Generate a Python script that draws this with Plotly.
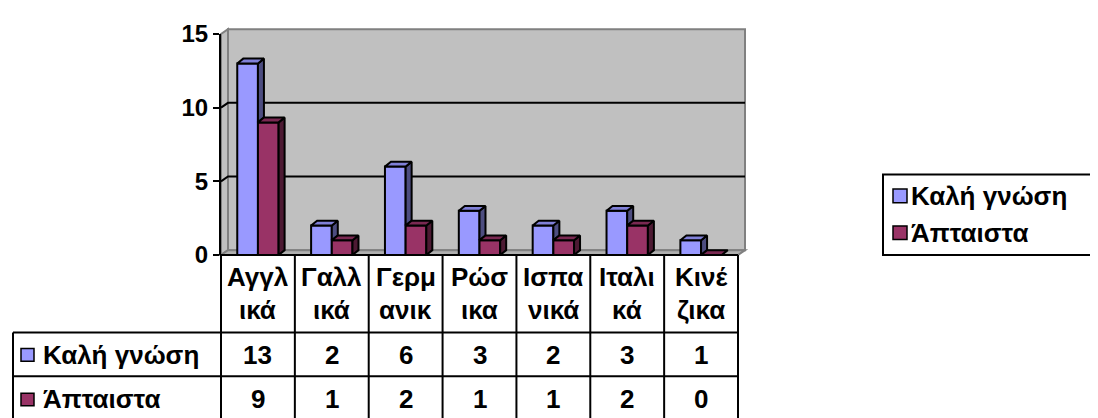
import plotly.graph_objects as go

# ---------------- data ----------------
categories = ["Αγγλικά", "Γαλλικά", "Γερμανικά", "Ρώσικα", "Ισπανικά", "Ιταλικά", "Κινέζικα"]
cat_line1 = ["Αγγλ", "Γαλλ", "Γερμ", "Ρώσ", "Ισπα", "Ιταλι", "Κινέ"]
cat_line2 = ["ικά", "ικά", "ανικ", "ικα", "νικά", "κά", "ζικα"]
series_names = ["Καλή γνώση", "Άπταιστα"]
good_knowledge = [13, 2, 6, 3, 2, 3, 1]
fluent = [9, 1, 2, 1, 1, 2, 0]
y_ticks = [0, 5, 10, 15]

# ---------------- style ----------------
FONT = "Arial, Liberation Sans, sans-serif"
FS_TICK = 24
FS = 26
BLUE, BLUE_SIDE, BLUE_TOP = "#9999FF", "#4D4D80", "#8080D8"
RED, RED_SIDE, RED_TOP = "#993366", "#4D1A33", "#7A2952"
WALL, WALL_EDGE, FLOOR = "#C0C0C0", "#808080", "#B0B0B0"
OUT_W = 2

OFF = 8                       # page body margin of the browser
W_FIG, H_FIG = 1098 - OFF, 418 - OFF
L, R, T, B = 221, 738, 27, 255   # plot area in window pixels
PW, PH = R - L, B - T
N = len(categories)
YMAX = 15

def px_x(px):
    return (px - L) / PW

def px_y(py):
    return (B - py) / PH

def dpx(x):  # data x -> paper
    return (x + 0.5) / N

def dpy(y):  # data y -> paper
    return y / YMAX

def bold(s):
    return f"<b>{s}</b>"

xs = list(range(N))
BW = 0.28
dxw, dyw = 7 * N / PW, 5 * YMAX / PH      # wall depth in data units
dxb, dyb = 6 * N / PW, 5 * YMAX / PH      # bar depth in data units

fig = go.Figure()

fig.add_trace(go.Bar(x=xs, y=good_knowledge, width=BW, offset=-BW, name=series_names[0],
                     marker=dict(color=BLUE, line=dict(color="black", width=OUT_W)),
                     hoverinfo="skip", showlegend=False))
fig.add_trace(go.Bar(x=xs, y=fluent, width=BW, offset=0, name=series_names[1],
                     marker=dict(color=RED, line=dict(color="black", width=OUT_W)),
                     hoverinfo="skip", showlegend=False))


def side_poly(xr, base, top, dx, dy):
    return ([xr, xr + dx, xr + dx, xr, xr, None],
            [base, base + dy, top + dy, top, base, None])


def top_poly(xl, xr, v, dx, dy):
    return ([xl, xl + dx, xr + dx, xr, xl, None],
            [v, v + dy, v + dy, v, v, None])


def face_trace(px, py, color):
    return go.Scatter(x=px, y=py, mode="lines", fill="toself", fillcolor=color,
                      line=dict(color="black", width=OUT_W), hoverinfo="skip",
                      showlegend=False)

# blue side faces (hidden below the neighbouring red box)
bx, by, tx, ty = [], [], [], []
for i in xs:
    b, r = good_knowledge[i], fluent[i]
    if b > r:
        a, c = side_poly(i, r, b, dxb, dyb)
        bx += a; by += c
    a, c = top_poly(i - BW, i, b, dxb, dyb)
    tx += a; ty += c
fig.add_trace(face_trace(bx, by, BLUE_SIDE))
fig.add_trace(face_trace(tx, ty, BLUE_TOP))

rx, ry, rtx, rty = [], [], [], []
for i in xs:
    r = fluent[i]
    if r > 0:
        a, c = side_poly(i + BW, 0, r, dxb, dyb)
        rx += a; ry += c
    a, c = top_poly(i, i + BW, r, dxb, dyb)
    rtx += a; rty += c
fig.add_trace(face_trace(rx, ry, RED_SIDE))
fig.add_trace(face_trace(rtx, rty, RED_TOP))

shapes = []

def path(points):
    return "M" + " L".join(f"{x:.5f},{y:.5f}" for x, y in points) + " Z"

# back wall, side wall and floor (paper coordinates derived from the data scale)
x0, x1 = -0.5, N - 0.5
shapes.append(dict(type="path", xref="paper", yref="paper", layer="below",
                   path=path([(dpx(x0 + dxw), dpy(dyw)), (dpx(x1 + dxw), dpy(dyw)),
                              (dpx(x1 + dxw), dpy(YMAX + dyw)), (dpx(x0 + dxw), dpy(YMAX + dyw))]),
                   fillcolor=WALL, line=dict(color=WALL_EDGE, width=2)))
shapes.append(dict(type="path", xref="paper", yref="paper", layer="below",
                   path=path([(dpx(x0), dpy(0)), (dpx(x0 + dxw), dpy(dyw)),
                              (dpx(x0 + dxw), dpy(YMAX + dyw)), (dpx(x0), dpy(YMAX))]),
                   fillcolor=WALL, line=dict(color=WALL_EDGE, width=2)))
shapes.append(dict(type="path", xref="paper", yref="paper", layer="below",
                   path=path([(dpx(x0), dpy(0)), (dpx(x1), dpy(0)),
                              (dpx(x1 + dxw), dpy(dyw)), (dpx(x0 + dxw), dpy(dyw))]),
                   fillcolor=FLOOR, line=dict(color=WALL_EDGE, width=2)))
# gridlines on the walls
for v in y_ticks[1:-1]:
    shapes.append(dict(type="path", xref="paper", yref="paper", layer="below",
                       path="M{:.5f},{:.5f} L{:.5f},{:.5f} L{:.5f},{:.5f}".format(
                           dpx(x0), dpy(v), dpx(x0 + dxw), dpy(v + dyw), dpx(x1 + dxw), dpy(v + dyw)),
                       line=dict(color="black", width=2)))

# ---------------- data table ----------------
TBL_L = 13
ROW1, ROW2, TBL_BOTTOM = 335, 380, 430
LINE = dict(color="black", width=2)
for k in range(N + 1):
    shapes.append(dict(type="line", xref="paper", yref="paper",
                       x0=dpx(k - 0.5), x1=dpx(k - 0.5), y0=px_y(B), y1=px_y(TBL_BOTTOM), line=LINE))
shapes.append(dict(type="line", xref="paper", yref="paper",
                   x0=px_x(TBL_L), x1=px_x(TBL_L), y0=px_y(ROW1), y1=px_y(TBL_BOTTOM), line=LINE))
shapes.append(dict(type="line", xref="paper", yref="paper",
                   x0=dpx(-0.5), x1=dpx(N - 0.5), y0=px_y(B), y1=px_y(B), line=LINE))
for yy in (ROW1, ROW2):
    shapes.append(dict(type="line", xref="paper", yref="paper",
                       x0=px_x(TBL_L), x1=dpx(N - 0.5), y0=px_y(yy), y1=px_y(yy), line=LINE))

ann = []
tfont = dict(family=FONT, size=FS, color="black")
for i in xs:
    ann.append(dict(x=dpx(i), y=px_y(278), xref="paper", yref="paper", text=bold(cat_line1[i]),
                    showarrow=False, font=tfont, xanchor="center", yanchor="middle"))
    ann.append(dict(x=dpx(i), y=px_y(312), xref="paper", yref="paper", text=bold(cat_line2[i]),
                    showarrow=False, font=tfont, xanchor="center", yanchor="middle"))
    ann.append(dict(x=dpx(i), y=px_y(358), xref="paper", yref="paper", text=bold(good_knowledge[i]),
                    showarrow=False, font=tfont, xanchor="center", yanchor="middle"))
    ann.append(dict(x=dpx(i), y=px_y(404), xref="paper", yref="paper", text=bold(fluent[i]),
                    showarrow=False, font=tfont, xanchor="center", yanchor="middle"))

# row headers with colour keys
for name, color, cy in ((series_names[0], BLUE, 358), (series_names[1], RED, 404)):
    shapes.append(dict(type="rect", xref="paper", yref="paper",
                       x0=px_x(21), x1=px_x(34), y0=px_y(cy - 6.5), y1=px_y(cy + 6.5),
                       fillcolor=color, line=dict(color="black", width=1.5)))
    ann.append(dict(x=px_x(41), y=px_y(cy), xref="paper", yref="paper", text=bold(name),
                    showarrow=False, font=tfont, xanchor="left", yanchor="middle"))

# ---------------- legend ----------------
shapes.append(dict(type="rect", xref="paper", yref="paper",
                   x0=px_x(883), x1=px_x(1092), y0=px_y(172), y1=px_y(255),
                   fillcolor="white", line=dict(color="black", width=2)))
for name, color, cy in ((series_names[0], BLUE, 194), (series_names[1], RED, 232)):
    shapes.append(dict(type="rect", xref="paper", yref="paper",
                       x0=px_x(893), x1=px_x(907), y0=px_y(cy - 7), y1=px_y(cy + 7),
                       fillcolor=color, line=dict(color="black", width=1.5)))
    ann.append(dict(x=px_x(909), y=px_y(cy), xref="paper", yref="paper", text=bold(name),
                    showarrow=False, font=tfont, xanchor="left", yanchor="middle"))

fig.update_layout(
    width=W_FIG, height=H_FIG,
    margin=dict(l=L - OFF, r=1098 - R, t=T - OFF, b=418 - B, pad=0),
    paper_bgcolor="white", plot_bgcolor="rgba(0,0,0,0)",
    barmode="overlay",
    showlegend=False,
    shapes=shapes, annotations=ann,
    xaxis=dict(range=[-0.5, N - 0.5], showticklabels=False, ticks="", showgrid=False,
               zeroline=False, showline=False, fixedrange=True),
    yaxis=dict(range=[0, YMAX], tickvals=y_ticks, ticktext=[bold(v) for v in y_ticks],
               ticks="outside", ticklen=6, tickwidth=2,
               tickcolor="black", showline=True, linecolor="black", linewidth=2,
               showgrid=False, zeroline=False, fixedrange=True,
               tickfont=dict(family=FONT, size=FS_TICK, color="black")),
)

fig.write_html("out.html")
